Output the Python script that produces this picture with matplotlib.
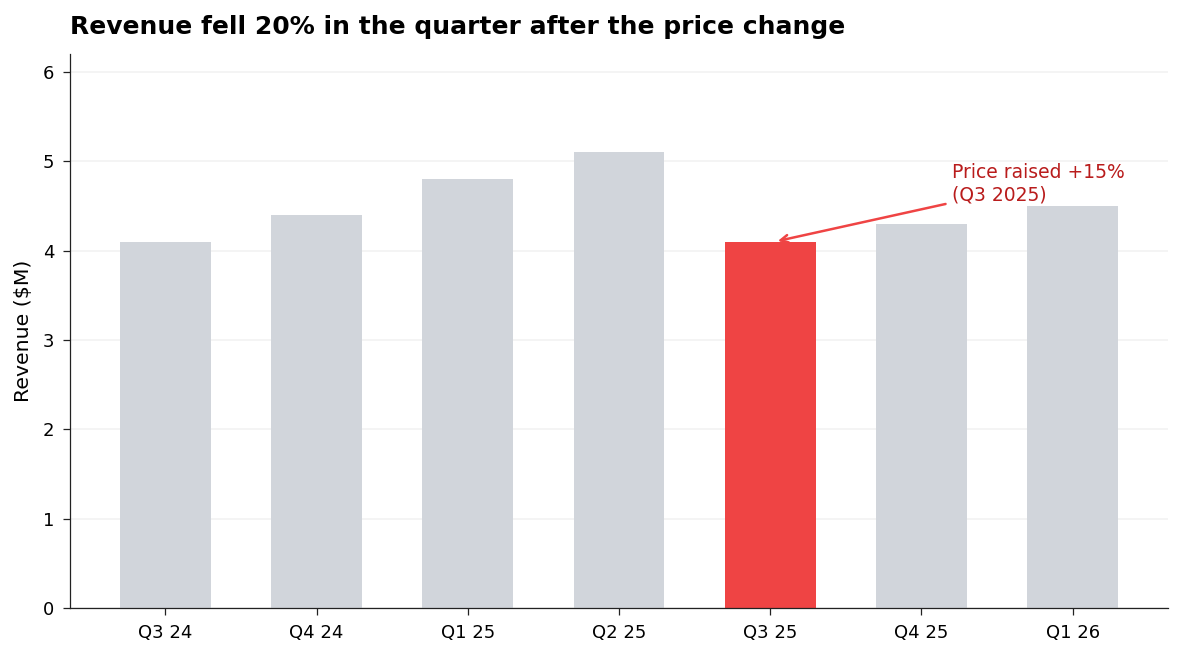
import matplotlib.pyplot as plt

quarters = ["Q3 24", "Q4 24", "Q1 25", "Q2 25", "Q3 25", "Q4 25", "Q1 26"]
revenue = [4.1, 4.4, 4.8, 5.1, 4.1, 4.3, 4.5]
highlight = "Q3 25"

grey = "#d1d5db"
red = "#ef4444"
colors = [red if q == highlight else grey for q in quarters]

# drawn at dpi 112.5 so that 1184x657 pixels come out
fig = plt.figure(figsize=(1184 / 112.5, 657 / 112.5), dpi=112.5)
ax = fig.add_axes([0.0591, 0.0746, 0.9274, 0.8432])

x = range(len(quarters))
ax.bar(x, revenue, width=0.6, color=colors, zorder=2)
ax.set_xticks(list(x))
ax.set_xticklabels(quarters, fontsize=11.5)
ax.tick_params(axis="y", labelsize=11.5)
ax.tick_params(colors="#222222", labelcolor="black", length=4.5, pad=5.5)
ax.set_ylim(0, 6.2)
ax.set_ylabel("Revenue ($M)", fontsize=13, labelpad=6)
ax.set_title("Revenue fell 20% in the quarter after the price change",
             loc="left", fontsize=16, fontweight="bold", pad=12.5)

ax.grid(axis="y", color="#f2f2f2", linewidth=1, zorder=0)
ax.set_axisbelow(True)
for s in ["top", "right"]:
    ax.spines[s].set_visible(False)
for s in ["left", "bottom"]:
    ax.spines[s].set_color("#222222")

i = quarters.index(highlight)
ax.annotate("Price raised +15%\n(Q3 2025)",
            xy=(i + 0.03, revenue[i]), xytext=(5.2, 4.75),
            ha="left", va="center", fontsize=12, color="#b91c1c",
            arrowprops=dict(arrowstyle="->", color=red, lw=1.6))

fig.savefig("out.png", dpi=112.5)
